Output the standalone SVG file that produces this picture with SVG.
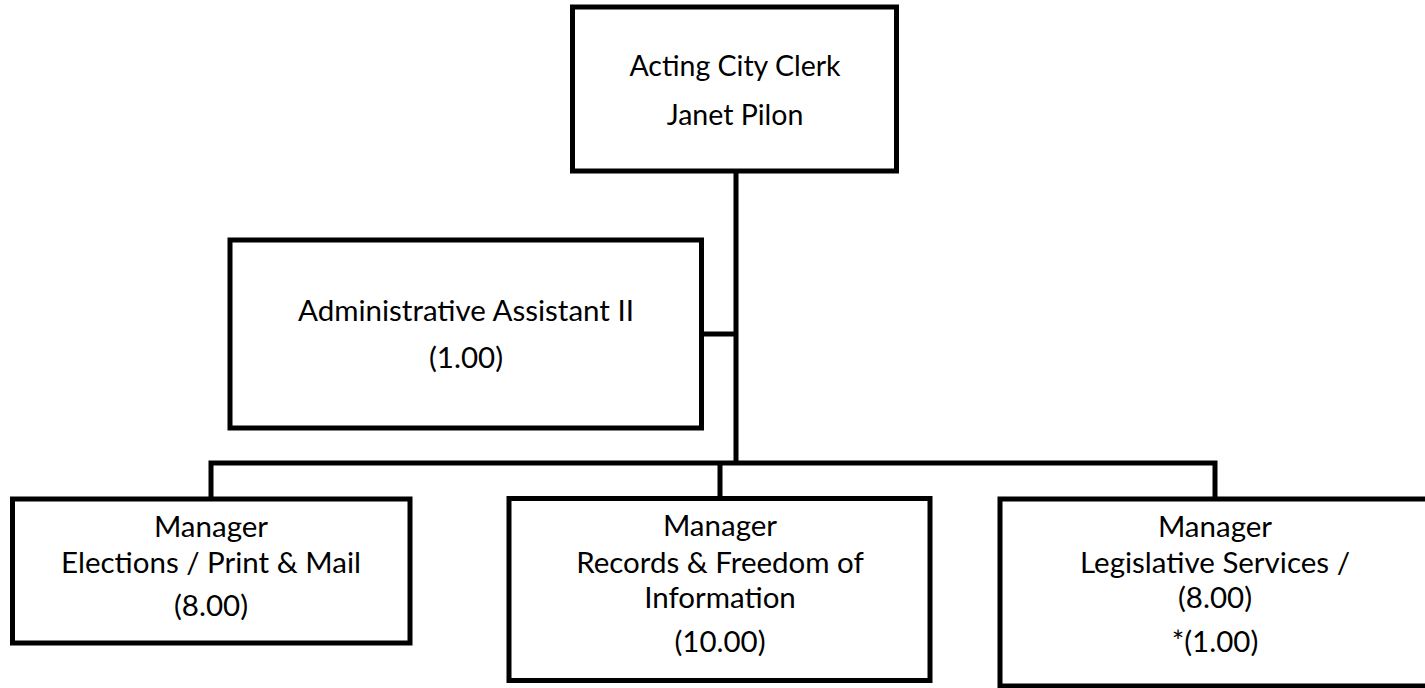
<svg xmlns="http://www.w3.org/2000/svg" width="1425" height="688" viewBox="0 0 1425 688">
<style>
.box{fill:#fff;stroke:#000;stroke-width:5}
.ln{fill:none;stroke:#000;stroke-width:5}
text{font-family:Lato,"Liberation Sans",sans-serif;fill:#000;text-anchor:middle}
.t1{font-size:28.5px}
.t2{font-size:29.5px}
</style>
<rect width="1425" height="688" fill="#fff"/>
<g id="connectors">
<path class="ln" d="M736 172V463"/>
<path class="ln" d="M701 334H736"/>
<path class="ln" d="M211 499V463H1215V499"/>
<path class="ln" d="M720 463V499"/>
</g>
<g id="clerk">
<rect class="box" x="572.5" y="7" width="324" height="164"/>
<text class="t1" x="735" y="76">Acting City Clerk</text>
<text class="t1" x="735" y="125">Janet Pilon</text>
</g>
<g id="admin">
<rect class="box" x="230" y="240" width="471.5" height="188"/>
<text class="t2" x="466" y="321">Administrative Assistant II</text>
<text class="t2" x="466" y="368">(1.00)</text>
</g>
<g id="elections">
<rect class="box" x="12.5" y="499" width="397.5" height="144"/>
<text class="t2" x="211" y="537">Manager</text>
<text class="t2" x="211" y="573">Elections / Print &amp; Mail</text>
<text class="t2" x="211" y="616">(8.00)</text>
</g>
<g id="records">
<rect class="box" x="509" y="498.5" width="421" height="182"/>
<text class="t2" x="720" y="536">Manager</text>
<text class="t2" x="720" y="573">Records &amp; Freedom of</text>
<text class="t2" x="720" y="608">Information</text>
<text class="t2" x="720" y="652">(10.00)</text>
</g>
<g id="legislative">
<rect class="box" x="1000" y="499" width="430" height="187"/>
<text class="t2" x="1215" y="537">Manager</text>
<text class="t2" x="1215" y="573">Legislative Services /</text>
<text class="t2" x="1215" y="608">(8.00)</text>
<text class="t2" x="1215" y="652">*(1.00)</text>
</g>
</svg>
